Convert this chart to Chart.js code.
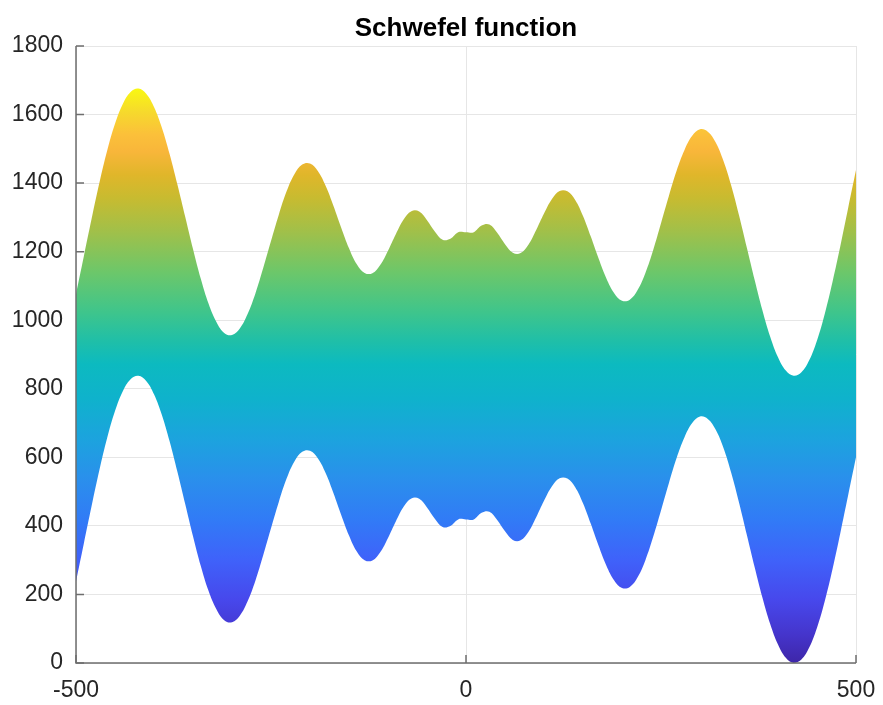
<!DOCTYPE html>
<html>
<head>
<meta charset="utf-8">
<title>Schwefel function</title>
<script src="https://cdn.jsdelivr.net/npm/chart.js@4.4.0/dist/chart.umd.min.js"></script>
<style>
  html, body { margin: 0; padding: 0; background: #fff; }
  canvas { display: block; }
</style>
</head>
<body>
<canvas id="chart" width="883" height="705"></canvas>
<script>
// side view of the 2-D Schwefel surface: top and bottom edge of the band, sampled every 10
const xs = [
  -500, -490, -480, -470, -460, -450, -440, -430, -420, -410,
  -400, -390, -380, -370, -360, -350, -340, -330, -320, -310,
  -300, -290, -280, -270, -260, -250, -240, -230, -220, -210,
  -200, -190, -180, -170, -160, -150, -140, -130, -120, -110,
  -100, -90, -80, -70, -60, -50, -40, -30, -20, -10,
  0,
  10, 20, 30, 40, 50, 60, 70, 80, 90, 100,
  110, 120, 130, 140, 150, 160, 170, 180, 190, 200,
  210, 220, 230, 240, 250, 260, 270, 280, 290, 300,
  310, 320, 330, 340, 350, 360, 370, 380, 390, 400,
  410, 420, 430, 440, 450, 460, 470, 480, 490, 500
];

const upper = [
  1076, 1186, 1296, 1401, 1495, 1573, 1631, 1666, 1676, 1661,
  1622, 1562, 1485, 1396, 1302, 1208, 1121, 1048, 995, 963,
  957, 976, 1018, 1078, 1152, 1231, 1308, 1376, 1426, 1454,
  1457, 1435, 1392, 1334, 1270, 1210, 1163, 1138, 1137, 1161,
  1203, 1251, 1294, 1318, 1317, 1292, 1259, 1235, 1238, 1257,
  1257,
  1257, 1276, 1279, 1255, 1222, 1197, 1196, 1220, 1263, 1311,
  1353, 1377, 1376, 1351, 1304, 1244, 1180, 1122, 1079, 1057,
  1060, 1088, 1138, 1205, 1283, 1362, 1436, 1496, 1538, 1557,
  1550, 1519, 1465, 1393, 1306, 1212, 1118, 1029, 952, 892,
  853, 838, 848, 883, 941, 1019, 1113, 1217, 1328, 1438
];

const lower = [
  238, 348, 458, 563, 657, 735, 793, 828, 838, 823,
  784, 724, 647, 558, 464, 370, 283, 210, 157, 125,
  119, 138, 180, 240, 314, 393, 470, 538, 588, 616,
  619, 597, 554, 496, 432, 372, 325, 300, 299, 323,
  365, 413, 456, 480, 479, 454, 421, 397, 400, 419,
  419,
  419, 438, 441, 417, 384, 359, 358, 382, 425, 473,
  515, 539, 538, 513, 466, 406, 342, 284, 241, 219,
  222, 250, 300, 368, 445, 524, 598, 658, 700, 719,
  712, 681, 628, 555, 468, 374, 280, 191, 114, 54,
  15, 0, 10, 45, 103, 181, 275, 380, 490, 600
];

const xTicks = [-500, 0, 500];
const yTicks = [0, 200, 400, 600, 800, 1000, 1200, 1400, 1600, 1800];

// colour limits of the surface
const cLimits = [0, 1676];

// parula-like colormap, [position, colour]
const parula = [
  [0.00, '#3e26a8'],
  [0.05, '#4535cc'],
  [0.11, '#4748ec'],
  [0.18, '#3f62fa'],
  [0.25, '#317bf6'],
  [0.32, '#2a8fec'],
  [0.39, '#1ca3de'],
  [0.46, '#0fb2cc'],
  [0.52, '#0cbac0'],
  [0.56, '#1fbfa8'],
  [0.61, '#3ec58c'],
  [0.68, '#6cc76a'],
  [0.75, '#a0c04a'],
  [0.81, '#c8bb30'],
  [0.85, '#e0b62a'],
  [0.89, '#f8b63a'],
  [0.92, '#fbc03a'],
  [0.96, '#f6da2c'],
  [1.00, '#f9f812']
];

const FONT = "'Liberation Sans', Arial, Helvetica, sans-serif";
const axisColor = '#6e6e6e';
const gridColor = '#e6e6e6';

function surfaceFill(context) {
  const chart = context.chart;
  const area = chart.chartArea;
  if (!area) return null;
  const y = chart.scales.y;
  const g = chart.ctx.createLinearGradient(0, y.getPixelForValue(cLimits[0]), 0, y.getPixelForValue(cLimits[1]));
  parula.forEach(function (s) { g.addColorStop(s[0], s[1]); });
  return g;
}

// axes drawn MATLAB style: ticks point inward under the surface,
// left/bottom lines on top, title centred over the plot area
const axesStyle = {
  id: 'axesStyle',
  afterLayout(chart) {
    if (chart.titleBlock) {
      chart.titleBlock.left = chart.chartArea.left;
      chart.titleBlock.right = chart.chartArea.right;
      chart.titleBlock.width = chart.chartArea.right - chart.chartArea.left;
    }
  },
  beforeDatasetsDraw(chart) {
    const ctx = chart.ctx;
    const a = chart.chartArea;
    const x = chart.scales.x, y = chart.scales.y;
    ctx.save();
    ctx.strokeStyle = axisColor;
    ctx.lineWidth = 1.5;
    ctx.beginPath();
    y.ticks.forEach(function (t) {
      const py = y.getPixelForValue(t.value);
      ctx.moveTo(a.left, py);
      ctx.lineTo(a.left + 8, py);
    });
    x.ticks.forEach(function (t) {
      const px = x.getPixelForValue(t.value);
      ctx.moveTo(px, a.bottom);
      ctx.lineTo(px, a.bottom - 8);
    });
    ctx.stroke();
    ctx.restore();
  },
  afterDatasetsDraw(chart) {
    const ctx = chart.ctx;
    const a = chart.chartArea;
    ctx.save();
    ctx.strokeStyle = axisColor;
    ctx.lineWidth = 1.5;
    ctx.beginPath();
    ctx.moveTo(a.left, a.top);
    ctx.lineTo(a.left, a.bottom);
    ctx.lineTo(a.right, a.bottom);
    ctx.stroke();
    ctx.restore();
  }
};

const points = function (ys) {
  return xs.map(function (x, i) { return { x: x, y: ys[i] }; });
};

const plain = function (v) { return String(v); };

new Chart(document.getElementById('chart'), {
  type: 'line',
  data: {
    datasets: [
      {
        label: 'lower',
        data: points(lower),
        borderWidth: 0,
        pointRadius: 0,
        tension: 0.4,
        fill: false
      },
      {
        label: 'upper',
        data: points(upper),
        borderWidth: 0,
        pointRadius: 0,
        tension: 0.4,
        fill: '-1',
        backgroundColor: surfaceFill
      }
    ]
  },
  options: {
    responsive: false,
    animation: false,
    layout: { padding: { top: 0, right: 27, bottom: 0, left: 0 } },
    plugins: {
      legend: { display: false },
      tooltip: { enabled: false },
      title: {
        display: true,
        text: 'Schwefel function',
        color: '#000',
        font: { family: FONT, size: 26, weight: 'bold', lineHeight: 1 },
        padding: { top: 16, bottom: 4 }
      }
    },
    scales: {
      x: {
        type: 'linear',
        min: -500,
        max: 500,
        afterBuildTicks: function (s) { s.ticks = xTicks.map(function (v) { return { value: v }; }); },
        afterFit: function (s) { s.height = 42; s.paddingLeft = 0; s.paddingRight = 0; },
        border: { display: false },
        grid: { color: gridColor, lineWidth: 1, drawTicks: false },
        ticks: { color: '#262626', font: { family: FONT, size: 23 }, padding: 14, maxRotation: 0, callback: plain }
      },
      y: {
        min: 0,
        max: 1800,
        afterBuildTicks: function (s) { s.ticks = yTicks.map(function (v) { return { value: v }; }); },
        afterFit: function (s) { s.width = 76; s.paddingTop = 0; s.paddingBottom = 0; },
        border: { display: false },
        grid: { color: gridColor, lineWidth: 1, drawTicks: false },
        ticks: { color: '#262626', font: { family: FONT, size: 23 }, padding: 13, callback: plain }
      }
    }
  },
  plugins: [axesStyle]
});
</script>
</body>
</html>
